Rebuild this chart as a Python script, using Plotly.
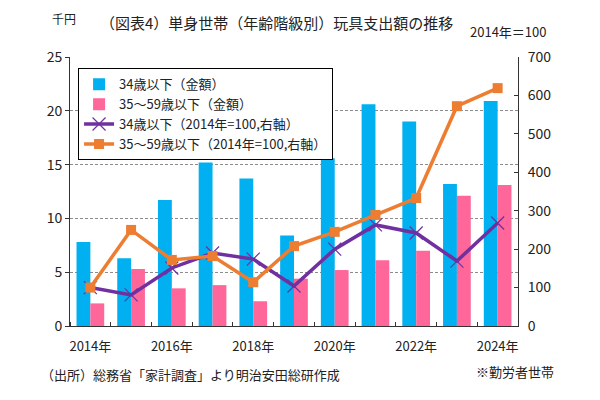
import plotly.graph_objects as go

years = [2014, 2015, 2016, 2017, 2018, 2019, 2020, 2021, 2022, 2023, 2024]
tick_years = [2014, 2016, 2018, 2020, 2022, 2024]
tick_labels = ['2014年', '2016年', '2018年', '2020年', '2022年', '2024年']

# 金額（千円）
amount_u34 = [7.8, 6.3, 11.7, 15.2, 13.7, 8.4, 15.6, 20.6, 19.0, 13.2, 20.9]
amount_35_59 = [2.1, 5.3, 3.5, 3.8, 2.3, 4.4, 5.2, 6.1, 7.0, 12.1, 13.1]

# 2014年=100
index_u34 = [100, 81, 151, 190, 174, 104, 200, 263, 242, 169, 268]
index_35_59 = [100, 250, 172, 182, 114, 208, 245, 289, 333, 572, 619]

font = 'Noto Sans CJK JP'

fig = go.Figure()
fig.add_trace(go.Bar(x=years, y=amount_u34, name='34歳以下（金額）',
	marker=dict(color='#00B0F0', line=dict(width=0))))
fig.add_trace(go.Bar(x=years, y=amount_35_59, name='35～59歳以下（金額）',
	marker=dict(color='#FF6699', line=dict(width=0))))
fig.add_trace(go.Scatter(x=years, y=index_u34, name='34歳以下（2014年=100,右軸）',
	yaxis='y2', mode='lines+markers',
	line=dict(color='#7030A0', width=3.5),
	marker=dict(symbol='x-thin', size=13, line=dict(color='#7030A0', width=1.2))))
fig.add_trace(go.Scatter(x=years, y=index_35_59, name='35～59歳以下（2014年=100,右軸）',
	yaxis='y2', mode='lines+markers',
	line=dict(color='#ED7D31', width=3.5),
	marker=dict(symbol='square', size=10, color='#ED7D31')))

# the page adds an 8px body margin, so the margins are set for that offset
fig.update_layout(
	width=600, height=400,
	margin=dict(l=62, r=90, t=49, b=82),
	paper_bgcolor='white', plot_bgcolor='white',
	font=dict(family=font, size=13, color='#222222'),
	barmode='group', bargap=0.32, bargroupgap=0,
	showlegend=True,
	legend=dict(x=0.018, y=0.958, xanchor='left', yanchor='top',
		bgcolor='white', bordercolor='black', borderwidth=1,
		font=dict(size=13), tracegroupgap=0, itemwidth=30),
	xaxis=dict(range=[2013.5, 2024.5], tickvals=tick_years, ticktext=tick_labels,
		ticks='', showgrid=False, showline=True, linecolor='#333333', linewidth=1,
		tickfont=dict(size=13), ticklabelstandoff=8,
		minor=dict(tickmode='linear', tick0=2013.5, dtick=1, ticks='inside',
			ticklen=4, tickcolor='#333333', showgrid=False)),
	yaxis=dict(range=[0, 25], dtick=5, showgrid=True, gridcolor='#8c8c8c',
		griddash='3px,2px', gridwidth=1, showline=True, linecolor='#333333',
		ticks='outside', ticklen=4, tickcolor='#333333', zeroline=False,
		tickfont=dict(size=14)),
	yaxis2=dict(range=[0, 700], dtick=100, overlaying='y', side='right',
		showgrid=False, showline=True, linecolor='#333333',
		ticks='inside', ticklen=4, tickcolor='#333333', zeroline=False,
		tickfont=dict(size=14), ticklabelstandoff=6),
)

fig.add_annotation(text='（図表4）単身世帯（年齢階級別）玩具支出額の推移',
	xref='paper', yref='paper', x=0.46, y=1.0, yshift=47,
	showarrow=False, font=dict(size=15, color='#222222'))
fig.add_annotation(text='千円', xref='paper', yref='paper', x=-0.045, y=1.0, yshift=49,
	showarrow=False, font=dict(size=12, color='#222222'))
fig.add_annotation(text='2014年＝100', xref='paper', yref='paper', x=1.07, y=1.0, yshift=37,
	showarrow=False, font=dict(size=13, color='#222222'))
fig.add_annotation(text='（出所）総務省「家計調査」より明治安田総研作成', xref='paper', yref='paper',
	x=-0.07, y=0, yshift=-60, xanchor='left', showarrow=False,
	font=dict(size=13, color='#222222'))
fig.add_annotation(text='※勤労者世帯', xref='paper', yref='paper',
	x=1.085, y=0, yshift=-57, xanchor='right', showarrow=False,
	font=dict(size=13, color='#222222'))

fig.write_html('out.html')
